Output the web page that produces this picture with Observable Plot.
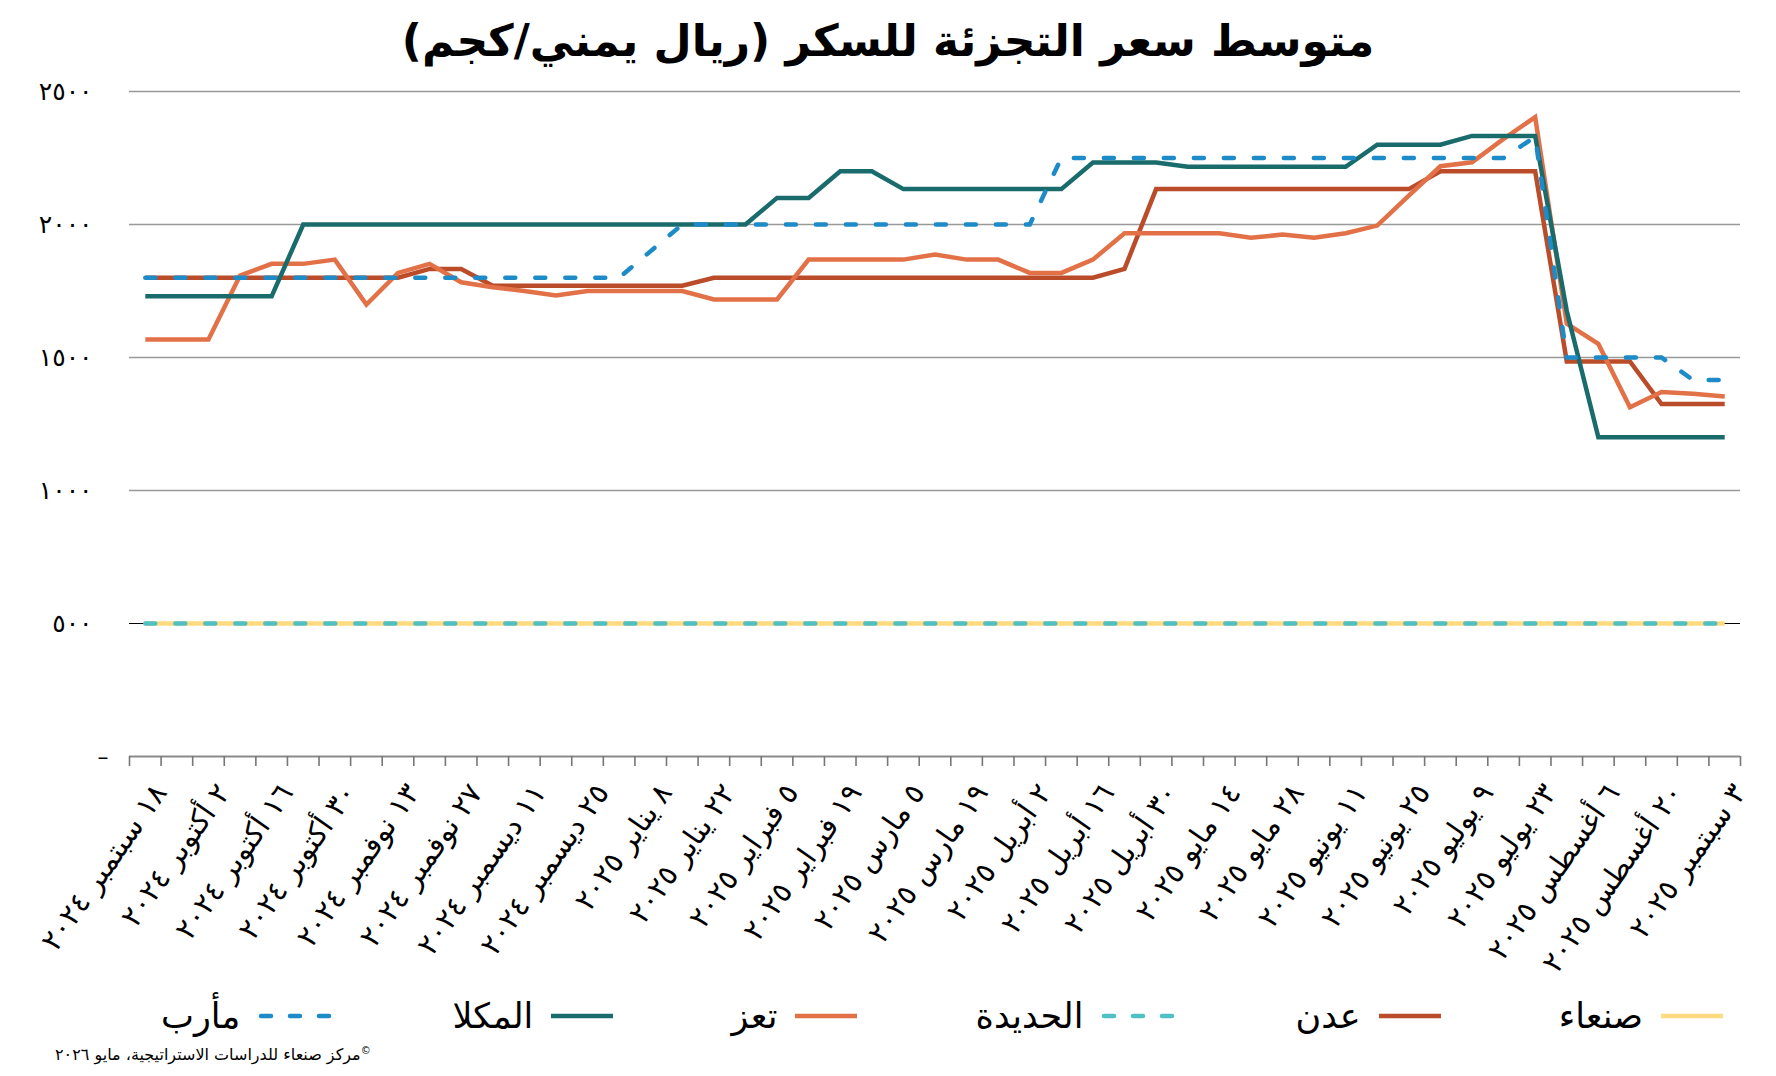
<!DOCTYPE html>
<html lang="ar">
<head>
<meta charset="utf-8">
<script src="https://cdn.jsdelivr.net/npm/d3@7"></script>
<script src="https://cdn.jsdelivr.net/npm/@observablehq/plot@0.6"></script>
<style>
  html, body { margin: 0; padding: 0; background: #fff; overflow: hidden; }
  #wrap { position: relative; width: 1776px; height: 1076px; font-family: "DejaVu Sans", sans-serif; color: #000; }
  #title { height: 80px; box-sizing: border-box; padding-top: 19px; text-align: center; direction: rtl;
           font-family: "DejaVu Sans", sans-serif; font-weight: bold; font-size: 44px; line-height: 1; }
  #legend { position: absolute; top: 996px; left: 161px; width: 1562px; display: flex; direction: rtl;
            justify-content: space-between; align-items: center; font-size: 35px; }
  .item { display: flex; align-items: center; gap: 18px; direction: rtl; }
  #footer { position: absolute; top: 1045px; left: 55px; direction: rtl; font-size: 16px; white-space: nowrap; }
  #footer sup { font-size: 10px; }
</style>
</head>
<body>
<div id="wrap">
  <div id="title">متوسط سعر التجزئة للسكر (ريال يمني/كجم)</div>
  <div id="chart"></div>
  <div id="legend"></div>
  <div id="footer"><sup>©</sup>مركز صنعاء للدراسات الاستراتيجية، مايو ٢٠٢٦</div>
</div>
<script>
// ---- Data (weekly, 18 Sep 2024 – 3 Sep 2025) ----
const xLabels = [
  "١٨ سبتمبر ٢٠٢٤", "٢ أكتوبر ٢٠٢٤", "١٦ أكتوبر ٢٠٢٤", "٣٠ أكتوبر ٢٠٢٤", "١٣ نوفمبر ٢٠٢٤",
  "٢٧ نوفمبر ٢٠٢٤", "١١ ديسمبر ٢٠٢٤", "٢٥ ديسمبر ٢٠٢٤", "٨ يناير ٢٠٢٥", "٢٢ يناير ٢٠٢٥",
  "٥ فبراير ٢٠٢٥", "١٩ فبراير ٢٠٢٥", "٥ مارس ٢٠٢٥", "١٩ مارس ٢٠٢٥", "٢ أبريل ٢٠٢٥",
  "١٦ أبريل ٢٠٢٥", "٣٠ أبريل ٢٠٢٥", "١٤ مايو ٢٠٢٥", "٢٨ مايو ٢٠٢٥", "١١ يونيو ٢٠٢٥",
  "٢٥ يونيو ٢٠٢٥", "٩ يوليو ٢٠٢٥", "٢٣ يوليو ٢٠٢٥", "٦ أغسطس ٢٠٢٥", "٢٠ أغسطس ٢٠٢٥",
  "٣ سبتمبر ٢٠٢٥"
];
const weekCount = 51;      // weekly observations
const labelStep = 2;       // a label every other week

const sanaa = [
  500,500,500,500,500,500,500,500,500,500,
  500,500,500,500,500,500,500,500,500,500,
  500,500,500,500,500,500,500,500,500,500,
  500,500,500,500,500,500,500,500,500,500,
  500,500,500,500,500,500,500,500,500,500,
  500];
const aden = [
  1800,1800,1800,1800,1800,1800,1800,1800,1800,1833,
  1833,1770,1770,1770,1770,1770,1770,1770,1800,1800,
  1800,1800,1800,1800,1800,1800,1800,1800,1800,1800,
  1800,1833,2133,2133,2133,2133,2133,2133,2133,2133,
  2133,2200,2200,2200,2200,1485,1485,1485,1325,1325,
  1325];
const hodeidah = [
  500,500,500,500,500,500,500,500,500,500,
  500,500,500,500,500,500,500,500,500,500,
  500,500,500,500,500,500,500,500,500,500,
  500,500,500,500,500,500,500,500,500,500,
  500,500,500,500,500,500,500,500,500,500,
  500];
const taiz = [
  1568,1568,1568,1808,1852,1852,1868,1699,1818,1852,
  1783,1764,1750,1733,1750,1750,1750,1750,1718,1718,
  1718,1868,1868,1868,1868,1887,1868,1868,1818,1818,
  1868,1967,1967,1967,1967,1950,1962,1950,1967,1996,
  2109,2219,2234,2322,2404,1627,1551,1313,1370,1364,
  1353];
const mukalla = [
  1730,1730,1730,1730,1730,2000,2000,2000,2000,2000,
  2000,2000,2000,2000,2000,2000,2000,2000,2000,2000,
  2100,2100,2200,2200,2133,2133,2133,2133,2133,2133,
  2233,2233,2233,2217,2217,2217,2217,2217,2217,2300,
  2300,2300,2333,2333,2333,1675,1200,1200,1200,1200,
  1200];
const marib = [
  1800,1800,1800,1800,1800,1800,1800,1800,1800,1800,
  1800,1800,1800,1800,1800,1800,1900,2000,2000,2000,
  2000,2000,2000,2000,2000,2000,2000,2000,2000,2250,
  2250,2250,2250,2250,2250,2250,2250,2250,2250,2250,
  2250,2250,2250,2250,2330,1500,1500,1500,1500,1415,
  1415];

const yTicks = [500, 1000, 1500, 2000, 2500];
const gridTicks = [1000, 1500, 2000, 2500];

const seriesNames = ["صنعاء", "عدن", "الحديدة", "تعز", "المكلا", "مأرب"];
const seriesValues = [sanaa, aden, hodeidah, taiz, mukalla, marib];
const seriesColors = ["#FFDA7F", "#BA4C29", "#4FC0C4", "#E27147", "#1A6B6B", "#1C8BC8"];
const seriesDashed = [false, false, true, false, false, true];

// ---- helpers ----
const arabicDigits = "٠١٢٣٤٥٦٧٨٩";
const toArabic = n => String(n).replace(/\d/g, d => arabicDigits[+d]);

const labelData = xLabels.map((label, k) => ({ i: k * labelStep, label }));
const boundaries = d3.range(weekCount + 1).map(b => b - 0.5);

const lineMarks = seriesValues.map((vals, s) =>
  Plot.line(vals, {
    x: (d, i) => i,
    y: d => d,
    stroke: seriesColors[s],
    strokeWidth: 4.5,
    strokeDasharray: seriesDashed[s] ? "10,20" : null,
    strokeLinecap: seriesDashed[s] ? "round" : "butt",
    strokeLinejoin: "miter",
    strokeMiterlimit: 10
  })
);

const chart = Plot.plot({
  width: 1776,
  height: 920,
  marginTop: 11,
  marginBottom: 244,
  marginLeft: 129,
  marginRight: 36,
  style: { fontFamily: "DejaVu Sans, sans-serif", background: "transparent", overflow: "visible" },
  x: { domain: [-0.5, weekCount - 0.5], axis: null, label: null },
  y: { domain: [0, 2500], axis: null, label: null },
  marks: [
    Plot.ruleY(gridTicks, { stroke: "#999999", strokeWidth: 1.6 }),
    Plot.ruleY([500], { stroke: "#000000", strokeWidth: 1.2 }),
    Plot.axisY({ ticks: yTicks, tickSize: 0, tickPadding: 37, tickFormat: toArabic, fontSize: 25, fill: "#000", label: null }),
    Plot.axisY({ ticks: [0], tickSize: 0, tickPadding: 21, tickFormat: () => "–", fontSize: 22, fill: "#000", label: null }),
    ...lineMarks,
    Plot.ruleY([0], { stroke: "#8a8a8a", strokeWidth: 2 }),
    Plot.axisX({ ticks: boundaries, tickSize: 10, tickFormat: () => "", stroke: "#777", strokeWidth: 1.6, strokeOpacity: 1, label: null }),
    Plot.text(labelData, {
      x: "i", text: "label", frameAnchor: "bottom",
      rotate: -55, textAnchor: "end", lineAnchor: "middle",
      dx: 15, dy: 31, fontSize: 29, fill: "#000"
    })
  ]
});
document.getElementById("chart").appendChild(chart);

// ---- legend ----
const legend = document.getElementById("legend");
seriesNames.forEach((name, s) => {
  const item = document.createElement("div");
  item.className = "item";
  const w = seriesDashed[s] ? 76 : 62;
  const sw = d3.create("svg").attr("width", w).attr("height", 12);
  sw.append("line")
    .attr("x1", seriesDashed[s] ? 3 : 0).attr("x2", seriesDashed[s] ? 73 : 62)
    .attr("y1", 6).attr("y2", 6)
    .attr("stroke", seriesColors[s]).attr("stroke-width", 4.5)
    .attr("stroke-dasharray", seriesDashed[s] ? "10,19" : null)
    .attr("stroke-linecap", seriesDashed[s] ? "round" : "butt");
  item.appendChild(sw.node());
  const t = document.createElement("span");
  t.textContent = name;
  item.appendChild(t);
  legend.appendChild(item);
});
</script>
</body>
</html>
